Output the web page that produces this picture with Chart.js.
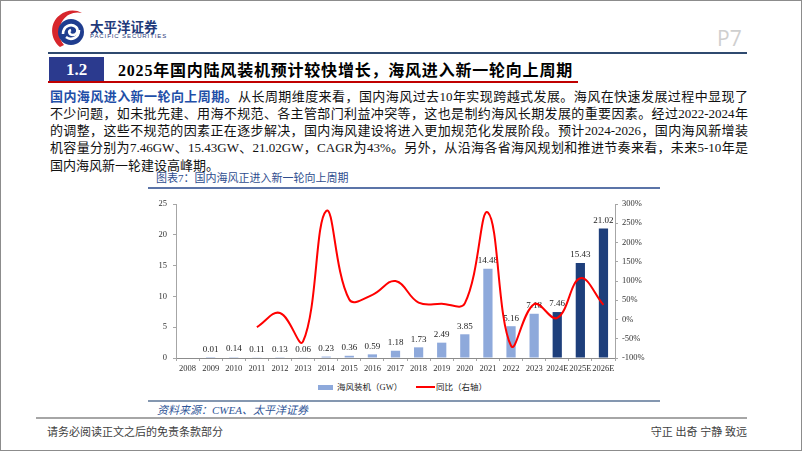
<!DOCTYPE html>
<html><head><meta charset="utf-8">
<script src="https://cdn.jsdelivr.net/npm/chart.js@4.4.0/dist/chart.umd.min.js"></script>
<style>
html,body{margin:0;padding:0;background:#fff;}
#page{position:relative;width:802px;height:451px;overflow:hidden;font-family:"Liberation Serif","Noto Sans CJK SC",serif;color:#111;}
.abs{position:absolute;white-space:nowrap;}
#frame{position:absolute;left:0;top:0;width:802px;height:451px;box-sizing:border-box;border:1px solid #8c8c8c;pointer-events:none;}
.pline{position:absolute;left:50px;width:698px;font-size:13px;line-height:17px;height:17px;text-align:justify;text-align-last:justify;white-space:nowrap;}
canvas{position:absolute;left:0;top:0;}
</style></head>
<body>
<div id="page">
  <svg class="abs" style="left:48px;top:7px" width="42" height="44" viewBox="0 0 42 44">
    <path d="M12 40 C2 32 1 16 12 8 C18 3 27 2 34 6 C27 4 19 7 15 13 C10 20 10 31 16 38 Z" fill="#d7262c"/>
    <circle cx="23" cy="25" r="13" fill="#1f3d8f"/>
    <path d="M15 27 C15 19 23 16 28 20 C31 23 29 28 25 28 C21 28 20 24 23 23" fill="none" stroke="#fff" stroke-width="2.6"/>
    <path d="M31 23 C31 31 23 34 18 30" fill="none" stroke="#fff" stroke-width="2.6"/>
  </svg>
  <div class="abs" style="left:90px;top:18px;font-size:13.5px;font-weight:bold;color:#1f3a7a;font-family:'Noto Sans CJK SC';line-height:16px;">太平洋证券</div>
  <div class="abs" style="left:90px;top:33px;font-size:6px;letter-spacing:0.9px;color:#1f3a7a;font-family:'Liberation Sans';line-height:7px;">PACIFIC SECURITIES</div>
  <div class="abs" style="left:717px;top:26px;font-size:21px;color:#cfcfcf;font-family:'Open Sans','Liberation Sans';line-height:24px;">P7</div>
  <div class="abs" style="left:48px;top:52px;width:699px;height:2px;background:#2f4a6f;"></div>
  <div class="abs" style="left:49px;top:57px;width:55px;height:25px;background:#2b3a8e;color:#fff;font-weight:bold;font-size:17px;line-height:25px;text-align:center;">1.2</div>
  <div id="title" class="abs" style="left:118px;top:60px;font-size:16px;font-weight:bold;line-height:21px;color:#000;">2025年国内陆风装机预计较快增长，海风进入新一轮向上周期</div>
  <div class="abs" style="left:48px;top:81px;width:530px;height:2px;background:#c00000;"></div>

  <div class="pline" style="top:88px;"><span style="color:#1f4fa8;font-weight:bold;">国内海风进入新一轮向上周期。</span>从长周期维度来看，国内海风过去10年实现跨越式发展。海风在快速发展过程中显现了</div>
  <div class="pline" style="top:105px;">不少问题，如未批先建、用海不规范、各主管部门利益冲突等，这也是制约海风长期发展的重要因素。经过2022-2024年</div>
  <div class="pline" style="top:122px;">的调整，这些不规范的因素正在逐步解决，国内海风建设将进入更加规范化发展阶段。预计2024-2026，国内海风新增装</div>
  <div class="pline" style="top:139px;">机容量分别为7.46GW、15.43GW、21.02GW，CAGR为43%。另外，从沿海各省海风规划和推进节奏来看，未来5-10年是</div>
  <div class="pline" style="top:157px;text-align-last:left;">国内海风新一轮建设高峰期。</div>

  <div class="abs" style="left:156px;top:171px;font-size:11px;line-height:14px;color:#2e4d8e;">图表7：国内海风正进入新一轮向上周期</div>
  <div class="abs" style="left:148px;top:187px;width:512px;height:1.5px;background:#5b74a8;"></div>

  <div class="abs" style="left:318px;top:385px;width:15px;height:5px;background:#8ea9db;"></div>
  <div class="abs" style="left:337px;top:381px;font-size:8.5px;line-height:12px;color:#222;">海风装机（GW）</div>
  <div class="abs" style="left:416px;top:386px;width:19px;height:2px;background:#ff0000;"></div>
  <div class="abs" style="left:436px;top:381px;font-size:8.5px;line-height:12px;color:#222;">同比（右轴）</div>

  <div class="abs" style="left:148px;top:400px;width:512px;height:1.5px;background:#8497b0;"></div>
  <div class="abs" style="left:157px;top:403px;font-size:11px;line-height:14px;color:#2f5597;font-style:italic;">资料来源：CWEA、太平洋证券</div>
  <div class="abs" style="left:36px;top:417px;width:711px;height:2px;background:#a6a6a6;"></div>
  <div class="abs" style="left:47px;top:425px;font-size:11px;line-height:14px;color:#404040;">请务必阅读正文之后的免责条款部分</div>
  <div class="abs" style="right:55px;top:425px;font-size:11px;line-height:14px;color:#404040;">守正&nbsp;出奇&nbsp;宁静&nbsp;致远</div>

  <canvas id="c" width="802" height="451"></canvas>
  <div id="frame"></div>
</div>
<script>
// ---- data ----
const categories = ['2008','2009','2010','2011','2012','2013','2014','2015','2016','2017','2018','2019','2020','2021','2022','2023','2024E','2025E','2026E'];
const capacityGW = [null,0.01,0.14,0.11,0.13,0.06,0.23,0.36,0.59,1.18,1.73,2.49,3.85,14.48,5.16,7.18,7.46,15.43,21.02];
const yoyPct = [null,null,null,-20,17,-57,282,52,64,100,44,41,42,278,-68,40,4,107,38];
const leftTicks = [0,5,10,15,20,25];
const rightTicks = [-100,-50,0,50,100,150,200,250,300];
const firstForecast = '2024E';

// fit title width
(function(){
  const t=document.getElementById('title');
  const w=t.getBoundingClientRect().width, target=455, n=t.textContent.length;
  t.style.letterSpacing=((target-w)/n)+'px';
})();

const fIdx = categories.indexOf(firstForecast);
const barColors = categories.map((c,i)=> i>=fIdx ? '#1e3f7b' : '#8ea9db');
const tickFont = {family:'Liberation Serif', size:8.5};

const barLabels = {
  id:'barLabels',
  afterDatasetDraw(chart,args){
    if(args.index!==0) return;
    const ctx=chart.ctx;
    ctx.save();
    ctx.font='9px "Liberation Serif"';
    ctx.fillStyle='#222';
    ctx.textAlign='center';
    ctx.textBaseline='middle';
    args.meta.data.forEach((el,i)=>{
      const v=capacityGW[i];
      if(v==null) return;
      ctx.fillText(v.toFixed(2), el.x, el.y-8);
    });
    ctx.restore();
  }
};

new Chart(document.getElementById('c'),{
  data:{
    labels:categories,
    datasets:[
      {type:'bar',label:'海风装机（GW）',data:capacityGW,backgroundColor:barColors,yAxisID:'y',order:1,categoryPercentage:1,barPercentage:0.4},
      {type:'line',label:'同比（右轴）',data:yoyPct,yAxisID:'y1',order:0,borderColor:'#ff0000',borderWidth:2,pointRadius:0,tension:0.4,fill:false}
    ]
  },
  options:{
    responsive:false,animation:false,devicePixelRatio:1,
    layout:{padding:{left:146,right:127,top:204,bottom:73}},
    plugins:{legend:{display:false},tooltip:{enabled:false}},
    scales:{
      x:{type:'category',offset:true,
        grid:{offset:true,drawOnChartArea:false,drawTicks:true,tickLength:3,color:'#a6a6a6'},
        border:{color:'#8c8c8c'},
        ticks:{font:tickFont,color:'#333',padding:3,maxRotation:0,autoSkip:false},
        afterFit(s){s.height=20;}},
      y:{position:'left',min:0,max:25,
        afterBuildTicks(s){s.ticks=leftTicks.map(v=>({value:v}));},
        grid:{drawOnChartArea:false,drawTicks:true,tickLength:3,color:'#a6a6a6'},
        border:{color:'#a6a6a6'},
        ticks:{font:tickFont,color:'#333',padding:6},
        afterFit(s){s.width=30;}},
      y1:{position:'right',min:-100,max:300,
        afterBuildTicks(s){s.ticks=rightTicks.map(v=>({value:v}));},
        grid:{drawOnChartArea:false,drawTicks:true,tickLength:3,color:'#a6a6a6'},
        border:{color:'#a6a6a6'},
        ticks:{font:tickFont,color:'#333',padding:4,callback:v=>v+'%'},
        afterFit(s){s.width=60;}}
    }
  },
  plugins:[barLabels]
});
</script>
</body></html>
